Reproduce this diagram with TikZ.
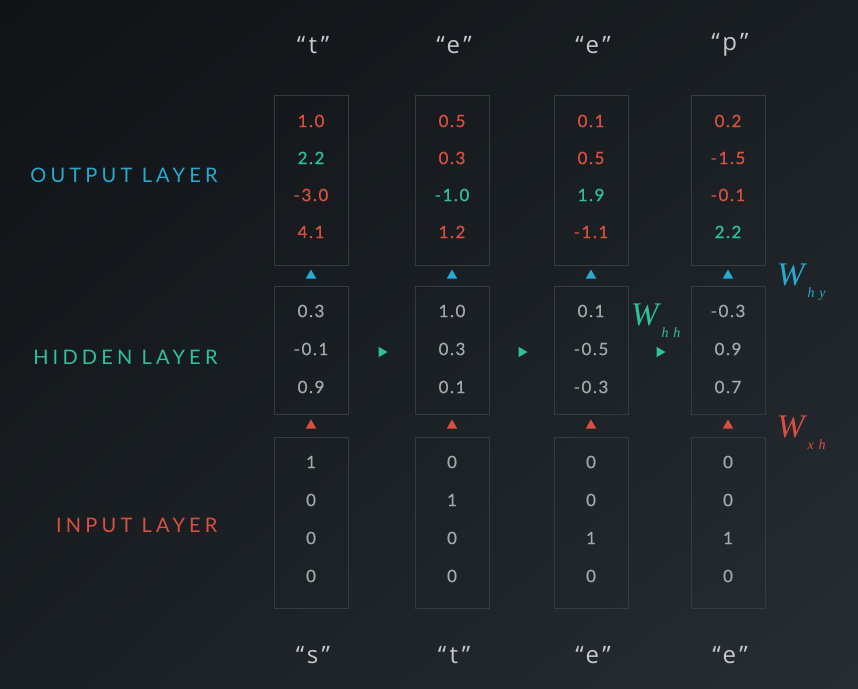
\documentclass[tikz,border=0pt]{standalone}
\usepackage{fontspec}
\setmainfont{Lato}
\newfontfamily\valfont[LetterSpace=9, FakeBold=0.6]{Lato}
\newfontfamily\layerfont[LetterSpace=21]{Lato}
\newfontfamily\quotefont[LetterSpace=14]{Open Sans}
\newfontfamily\wfont{Liberation Serif}
\usetikzlibrary{shapes.geometric, shadings, positioning, calc}

\definecolor{bgdark}{HTML}{101316}
\definecolor{bgmid}{HTML}{1A1F23}
\definecolor{bglight}{HTML}{272D33}
\definecolor{boxgray}{HTML}{343C41}
\definecolor{valgray}{HTML}{A3A8AB}
\definecolor{quotegray}{HTML}{C6C9CC}
\definecolor{outred}{HTML}{D9503F}
\definecolor{hidgreen}{HTML}{2CC39B}
\definecolor{outcyan}{HTML}{28A9CF}

\tikzset{
  cell/.style={draw=boxgray, line width=1pt, minimum width=74pt, inner sep=0pt},
  val/.style={font=\valfont\fontsize{17}{17}\selectfont, text=valgray},
  layer/.style={font=\layerfont\fontsize{20}{20}\selectfont, anchor=east},
  letter/.style={font=\quotefont\fontsize{24}{24}\selectfont, text=quotegray},
  tri/.style={regular polygon, regular polygon sides=3, minimum size=12pt, inner sep=0pt},
  uptri/.style={tri, fill=#1},
  righttri/.style={tri, shape border rotate=-90, fill=hidgreen},
  weight/.style={font=\wfont\itshape\fontsize{33}{33}\selectfont, anchor=base west, inner sep=0pt}
}
\newcommand\wsub[1]{\kern3pt\raisebox{-12pt}{\fontsize{14}{14}\selectfont #1}}

\begin{document}
\begin{tikzpicture}[x=1pt, y=-1pt]
% background
\shade[upper left=bgdark, upper right=bgmid, lower left=bgmid, lower right=bglight]
  (0,0) rectangle (858,688);

% Output layer
\node[cell, minimum height=170pt] (out1) at (311,180) {};
\node[cell, minimum height=170pt] (out2) at (452,180) {};
\node[cell, minimum height=170pt] (out3) at (591,180) {};
\node[cell, minimum height=170pt] (out4) at (728,180) {};
\foreach \c/\v [count=\i] in {outred/1.0, hidgreen/2.2, outred/-3.0, outred/4.1}
  \node[val, text=\c] (o1\i) at (311,84+37*\i) {\v};
\foreach \c/\v [count=\i] in {outred/0.5, outred/0.3, hidgreen/-1.0, outred/1.2}
  \node[val, text=\c] (o2\i) at (452,84+37*\i) {\v};
\foreach \c/\v [count=\i] in {outred/0.1, outred/0.5, hidgreen/1.9, outred/-1.1}
  \node[val, text=\c] (o3\i) at (591,84+37*\i) {\v};
\foreach \c/\v [count=\i] in {outred/0.2, outred/-1.5, outred/-0.1, hidgreen/2.2}
  \node[val, text=\c] (o4\i) at (728,84+37*\i) {\v};

% Hidden layer
\node[cell, minimum height=128pt] (hid1) at (311,350) {};
\node[cell, minimum height=128pt] (hid2) at (452,350) {};
\node[cell, minimum height=128pt] (hid3) at (591,350) {};
\node[cell, minimum height=128pt] (hid4) at (728,350) {};
\foreach \v [count=\i] in {0.3, -0.1, 0.9}
  \node[val] (h1\i) at (311,273+38*\i) {\v};
\foreach \v [count=\i] in {1.0, 0.3, 0.1}
  \node[val] (h2\i) at (452,273+38*\i) {\v};
\foreach \v [count=\i] in {0.1, -0.5, -0.3}
  \node[val] (h3\i) at (591,273+38*\i) {\v};
\foreach \v [count=\i] in {-0.3, 0.9, 0.7}
  \node[val] (h4\i) at (728,273+38*\i) {\v};

% Input layer
\node[cell, minimum height=171pt] (in1) at (311,522.5) {};
\node[cell, minimum height=171pt] (in2) at (452,522.5) {};
\node[cell, minimum height=171pt] (in3) at (591,522.5) {};
\node[cell, minimum height=171pt] (in4) at (728,522.5) {};
\foreach \v [count=\i] in {1, 0, 0, 0}
  \node[val] (x1\i) at (311,424+38*\i) {\v};
\foreach \v [count=\i] in {0, 1, 0, 0}
  \node[val] (x2\i) at (452,424+38*\i) {\v};
\foreach \v [count=\i] in {0, 0, 1, 0}
  \node[val] (x3\i) at (591,424+38*\i) {\v};
\foreach \v [count=\i] in {0, 0, 1, 0}
  \node[val] (x4\i) at (728,424+38*\i) {\v};

% arrow heads between the layers
\foreach \k in {1,2,3,4} {
  \node[uptri=outcyan] (hy\k) at ($(hid\k.north)!0.5!(out\k.south)$) {};
  \node[uptri=outred] (xh\k) at ($(in\k.north)!0.5!(hid\k.south)$) {};
}
\node[righttri, yshift=-2pt] (hh1) at ($(hid1.east)!0.5!(hid2.west)$) {};
\node[righttri, yshift=-2pt] (hh2) at ($(hid2.east)!0.5!(hid3.west)$) {};
\node[righttri, yshift=-2pt] (hh3) at ($(hid3.east)!0.5!(hid4.west)$) {};

% weights
\node[weight, text=outcyan] (why) at (777,285) {W\wsub{h\,\,y}};
\node[weight, text=hidgreen] (whh) at (631,325) {W\wsub{h\,\,h}};
\node[weight, text=outred] (wxh) at (777,437) {W\wsub{x\,\,h}};

% layer names
\node[layer, text=outcyan] (lout) at (221,175) {OUTPUT LAYER};
\node[layer, text=hidgreen] (lhid) at (221,357) {HIDDEN LAYER};
\node[layer, text=outred] (lin) at (221,525) {INPUT LAYER};

% characters
\node[letter] (y1) at (313,45) {“t”};
\node[letter] (y2) at (454,45) {“e”};
\node[letter] (y3) at (593,45) {“e”};
\node[letter] (y4) at (730,45) {“p”};
\node[letter] (c1) at (313,655) {“s”};
\node[letter] (c2) at (454,655) {“t”};
\node[letter] (c3) at (593,655) {“e”};
\node[letter] (c4) at (730,655) {“e”};
\end{tikzpicture}
\end{document}
